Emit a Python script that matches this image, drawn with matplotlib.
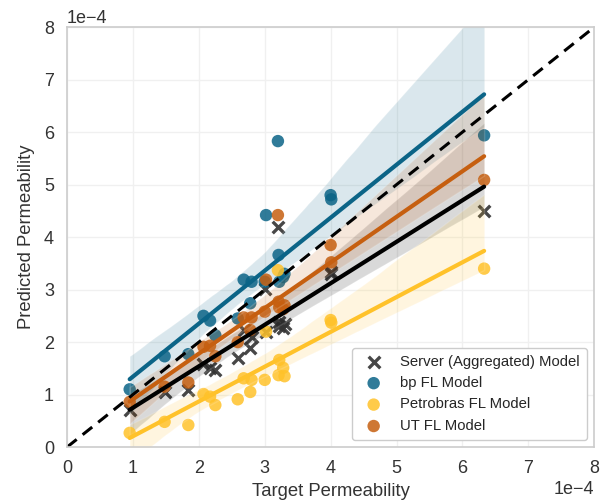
import numpy as np
import matplotlib
matplotlib.use("Agg")
import matplotlib.pyplot as plt
import seaborn as sns

# permeability values, in units of 1e-4
target = [0.95, 1.48, 1.84, 2.07, 2.17, 2.25, 2.59, 2.68, 2.78, 2.80,
          3.00, 3.02, 3.20, 3.21, 3.22, 3.28, 3.30, 4.00, 4.01, 6.33]
server_pred = [0.70, 1.05, 1.09, 1.59, 1.50, 1.47, 1.69, 2.23, 1.88, 2.10,
               3.02, 2.20, 4.20, 2.39, 2.30, 2.26, 2.35, 3.34, 3.30, 4.50]
bp_pred = [1.10, 1.73, 1.77, 2.50, 2.41, 2.13, 2.45, 3.19, 2.74, 3.15,
           3.15, 4.42, 5.83, 3.66, 3.15, 3.24, 3.30, 4.80, 4.72, 5.94]
petrobras_pred = [0.27, 0.48, 0.42, 1.01, 0.96, 0.80, 0.91, 1.31, 1.05, 1.28,
                  1.28, 2.20, 3.37, 1.37, 1.66, 1.51, 1.35, 2.42, 2.37, 3.40]
ut_pred = [0.86, 1.15, 1.23, 1.91, 1.93, 1.73, 2.00, 2.47, 2.23, 2.47,
           2.58, 3.19, 4.42, 2.77, 2.66, 2.63, 2.70, 3.85, 3.52, 5.09]

scale = 1e-4
models = [
    ("Server (Aggregated) Model", server_pred, "#000000", "x"),
    ("bp FL Model", bp_pred, "#0b6487", "o"),
    ("Petrobras FL Model", petrobras_pred, "#ffc22a", "o"),
    ("UT FL Model", ut_pred, "#c65f10", "o"),
]

sns.set_theme(style="whitegrid", rc={
    "grid.color": "#f0f0f0",
    "axes.edgecolor": "#cccccc",
    "axes.linewidth": 1.2,
})
plt.rcParams["font.family"] = ["Liberation Sans", "DejaVu Sans"]

fig = plt.figure(figsize=(6.1, 5.04), dpi=100)
ax = fig.add_axes([0.11, 0.113, 0.864, 0.833])

x = np.array(target) * scale
for label, pred, color, marker in models:
    y = np.array(pred) * scale
    if marker == "x":
        scatter_kws = {"s": 70, "linewidths": 2.4, "color": "#333333", "alpha": 0.9}
    else:
        scatter_kws = {"s": 80, "alpha": 0.85, "edgecolor": "none"}
    sns.regplot(x=x, y=y, ax=ax, color=color, marker=marker, label=label,
                scatter_kws=scatter_kws, line_kws={"lw": 3}, seed=3, truncate=True)

# perfect-prediction reference
ax.plot([0, 8 * scale], [0, 8 * scale], color="black", ls="--", lw=2.2, dashes=(4, 2.5))

ax.set_xlim(0, 8 * scale)
ax.set_ylim(0, 8 * scale)
ax.set_xticks(np.arange(0, 9) * scale)
ax.set_yticks(np.arange(0, 9) * scale)
ax.ticklabel_format(style="sci", axis="both", scilimits=(0, 0))
ax.tick_params(labelsize=13, colors="#333333")
ax.xaxis.get_offset_text().set_fontsize(13)
ax.yaxis.get_offset_text().set_fontsize(13)
ax.set_xlabel("Target Permeability", fontsize=13.3, color="#333333", labelpad=4)
ax.set_ylabel("Predicted Permeability", fontsize=13.3, color="#333333", labelpad=6)
for sp in ax.spines.values():
    sp.set_visible(True)

ax.legend(loc="lower right", fontsize=10.7, frameon=True, framealpha=1,
          edgecolor="#cccccc", borderpad=0.45, handletextpad=0.8, labelspacing=0.5)

fig.savefig("out.png", dpi=100)
